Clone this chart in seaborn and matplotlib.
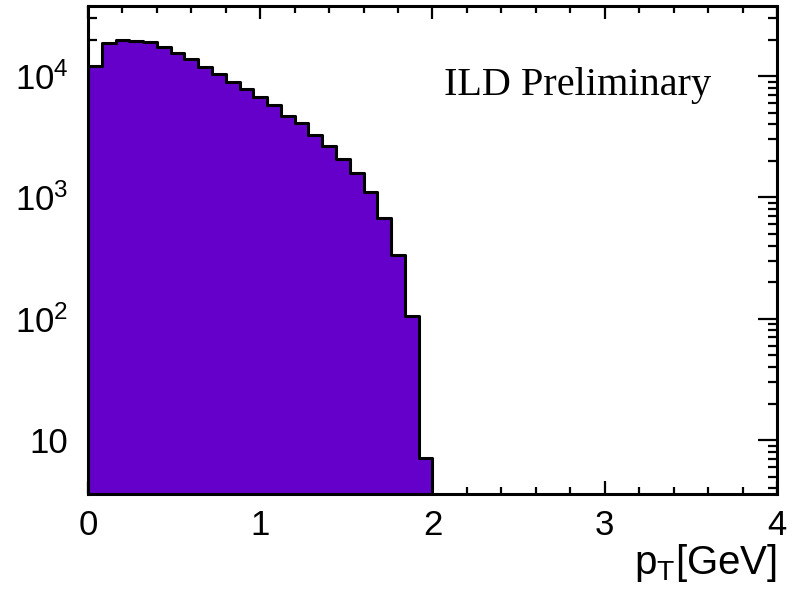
import numpy as np
import pandas as pd
import matplotlib
matplotlib.use('Agg')
import matplotlib.pyplot as plt
import matplotlib.ticker as mticker
import seaborn as sns

# bin edges (0.08 GeV wide) and entries per bin
bin_edges = [round(0.08 * i, 2) for i in range(26)]
counts = [12100, 18600, 19900, 19300, 19100, 17200, 15600, 13700, 11900, 10400,
          8900, 7770, 6720, 5730, 4680, 4120, 3280, 2660, 2060, 1580,
          1110, 671, 334, 105, 7.05]
y_ticks = [10, 100, 1000, 10000]
y_tick_labels = ['10', r'$\mathregular{10^{2}}$', r'$\mathregular{10^{3}}$', r'$\mathregular{10^{4}}$']

centers = [(a + b) / 2 for a, b in zip(bin_edges[:-1], bin_edges[1:])]
df = pd.DataFrame({'pt': centers, 'n': counts})

sns.set_style('ticks')
plt.rcParams['font.family'] = ['Liberation Sans', 'DejaVu Sans']
plt.rcParams['mathtext.default'] = 'regular'
plt.rcParams['text.color'] = 'black'
plt.rcParams['axes.labelcolor'] = 'black'

fig = plt.figure(figsize=(7.92, 5.97), dpi=100)
ax = fig.add_axes([88/792, 1 - 494/597, (777 - 88)/792, (494 - 6)/597])

sns.histplot(data=df, x='pt', weights='n', bins=bin_edges, element='step', fill=True,
             color='#6500ca', alpha=1, edgecolor='black', linewidth=2.2, ax=ax)

ax.set_yscale('log')
ax.set_xlim(0, 4)
ax.set_ylim(3.59, 3.78e4)

ax.xaxis.set_major_locator(mticker.MultipleLocator(1))
ax.xaxis.set_minor_locator(mticker.MultipleLocator(0.2))
ax.xaxis.set_major_formatter(mticker.FormatStrFormatter('%d'))
ax.set_yticks(y_ticks)
ax.set_yticklabels(y_tick_labels)
ax.yaxis.set_minor_locator(mticker.LogLocator(base=10, subs=np.arange(2, 10)))
ax.yaxis.set_minor_formatter(mticker.NullFormatter())

ax.tick_params(axis='both', which='both', direction='in', top=True, right=True,
               width=1.6, colors='black', labelsize=25)
ax.tick_params(axis='x', which='major', length=9.4, pad=11)
ax.tick_params(axis='x', which='minor', length=5)
ax.tick_params(axis='y', which='major', length=13.7, pad=14)
ax.tick_params(axis='y', which='minor', length=6.5)
for s in ax.spines.values():
    s.set_linewidth(2.2)
    s.set_color('black')

ax.set_xlabel(r'p$_{\mathregular{T}}$[GeV]', fontsize=29, loc='right', labelpad=0, color='black')
ax.set_ylabel('')

ax.text(0.711, 0.8176, 'ILD Preliminary', transform=ax.transAxes, ha='center',
        va='baseline', fontsize=29, color='black',
        family=['Liberation Serif', 'DejaVu Serif'])

fig.savefig('out.png', dpi=100)
